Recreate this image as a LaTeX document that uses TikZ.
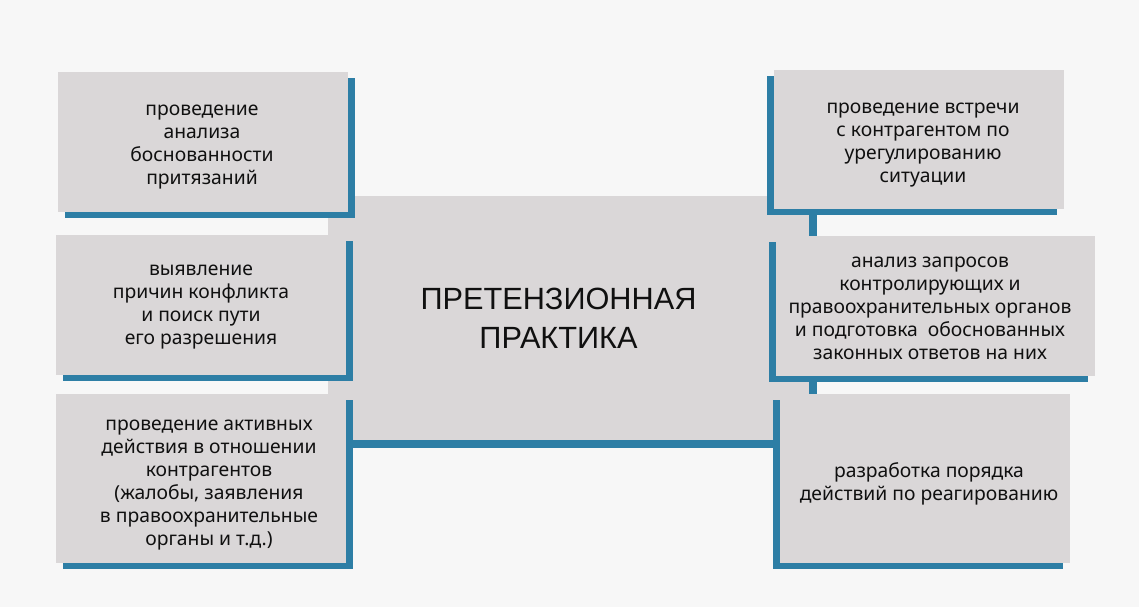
\documentclass[tikz,border=0pt]{standalone}
\usepackage{fontspec}
\setmainfont{Liberation Sans}
\newfontfamily\boxfont{Noto Sans}
\usetikzlibrary{shadows}
\definecolor{bg}{HTML}{F7F7F7}
\definecolor{boxgray}{HTML}{DAD7D8}
\definecolor{shadowblue}{HTML}{2D7EA5}
\definecolor{ink}{HTML}{101010}
\begin{document}
\begin{tikzpicture}[x=1pt,y=-1pt,
  panel/.style={fill=boxgray, draw=none, inner sep=0pt, outer sep=0pt},
  lshadow/.style={drop shadow={opacity=1, fill=shadowblue, shadow xshift=7pt, shadow yshift=-6pt}},
  rshadow/.style={drop shadow={opacity=1, fill=shadowblue, shadow xshift=-7pt, shadow yshift=-6pt}},
  cshadow/.style={drop shadow={opacity=1, fill=shadowblue, shadow xshift=8pt, shadow yshift=-8pt}},
  small/.style={font=\boxfont\fontsize{19.3}{23}\selectfont, align=center, text=ink, inner sep=0pt},
  big/.style={font=\fontsize{30.7}{39}\selectfont, align=center, text=ink, inner sep=0pt}]
\fill[bg] (0,0) rectangle (1139,607);
\useasboundingbox (0,0) rectangle (1139,607);
% central box
\node[panel, cshadow, minimum width=481pt, minimum height=244pt] (c) at (568.5,318) {};
\node[big] (ct) at (558.5,318) {ПРЕТЕНЗИОННАЯ\\ПРАКТИКА};
% left boxes
\node[panel, lshadow, minimum width=290pt, minimum height=140pt] (tl) at (203,142) {};
\node[small] (tlt) at (202,147) {проведение\\анализа\\боснованности\\притязаний};
\node[panel, lshadow, minimum width=290pt, minimum height=140pt] (ml) at (201,305) {};
\node[small] (mlt) at (201,307) {выявление\\причин конфликта\\и поиск пути\\его разрешения};
\node[panel, lshadow, minimum width=290pt, minimum height=169pt] (bl) at (201,478.5) {};
\node[small] (blt) at (209,485) {проведение активных\\действия в отношении\\контрагентов\\(жалобы, заявления\\в правоохранительные\\органы и т.д.)};
% right boxes
\node[panel, rshadow, minimum width=290pt, minimum height=139pt] (tr) at (919,139.5) {};
\node[small] (trt) at (923,145) {проведение встречи\\с контрагентом по\\урегулированию\\ситуации};
\node[panel, rshadow, minimum width=319pt, minimum height=140pt] (mr) at (935.5,306) {};
\node[small] (mrt) at (930,308) {анализ запросов\\контролирующих и\\правоохранительных органов\\и подготовка\ \ обоснованных\\законных ответов на них};
\node[panel, rshadow, minimum width=290pt, minimum height=169pt] (br) at (925,478.5) {};
\node[small] (brt) at (929,484) {разработка порядка\\действий по реагированию};
\end{tikzpicture}
\end{document}
